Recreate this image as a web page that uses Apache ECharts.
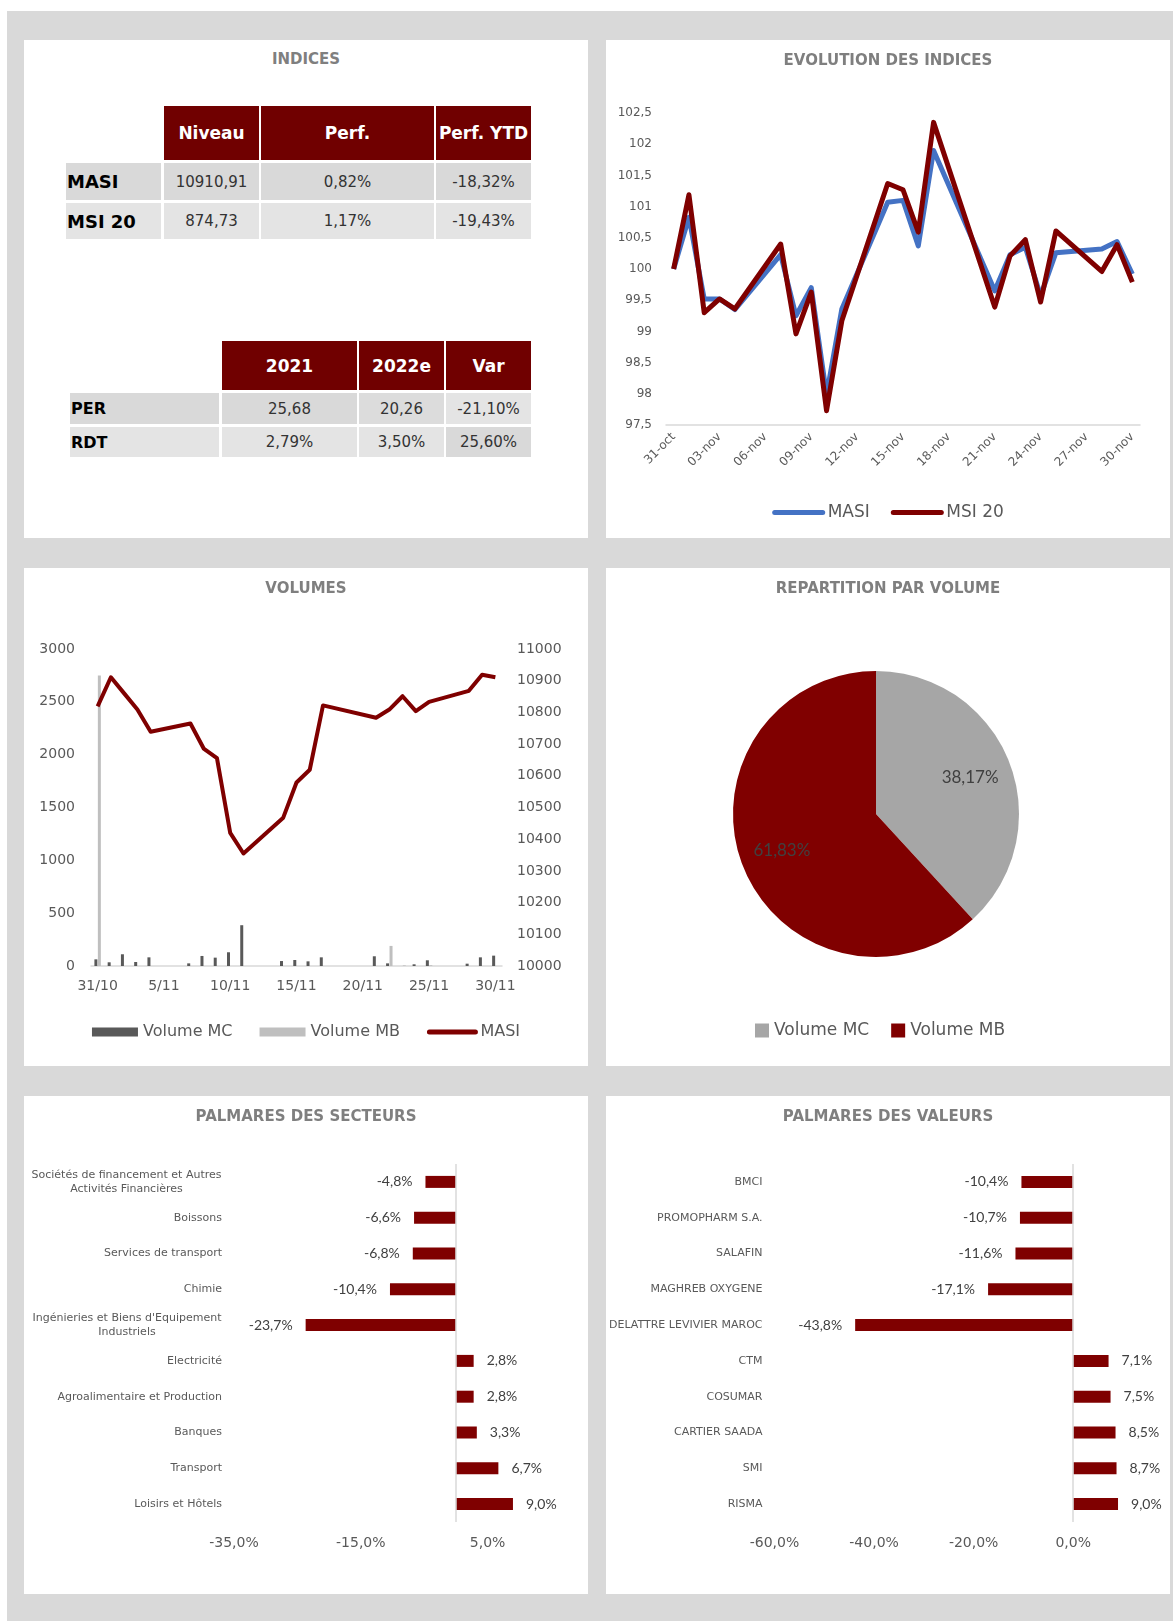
<!DOCTYPE html>
<html>
<head>
<meta charset="utf-8">
<script src="https://cdn.jsdelivr.net/npm/echarts@6/dist/echarts.min.js"></script>
<style>
  body { margin: 0; background: #fff; font-family: 'DejaVu Sans', sans-serif; }
  #bg { position: absolute; left: 7px; top: 11px; width: 1166px; height: 1610px; background: #d9d9d9; }
  .panel { position: absolute; width: 564px; height: 498px; background: #fff; }
  .ptitle { position: absolute; left: 0; top: 10px; width: 100%; text-align: center; font-weight: bold; font-size: 15px; line-height: 18px; color: #7f7f7f; }
  .cell { position: absolute; display: flex; align-items: center; justify-content: center; box-sizing: border-box; white-space: nowrap; }
  .head { background: #700000; color: #fff; font-weight: bold; font-size: 17px; }
  .rowlab { justify-content: flex-start; padding-left: 1px; font-weight: bold; color: #000; }
  .val { color: #333; font-size: 15px; }
</style>
</head>
<body>
<div id="bg"></div>
<div class="panel" id="indices" style="left:24px;top:40px"><div class="ptitle">INDICES</div></div>
<div class="panel" id="evolution" style="left:606px;top:40px"></div>
<div class="panel" id="volumes" style="left:24px;top:568px"></div>
<div class="panel" id="repartition" style="left:606px;top:568px"></div>
<div class="panel" id="secteurs" style="left:24px;top:1096px"></div>
<div class="panel" id="valeurs" style="left:606px;top:1096px"></div>

<script>
// ---- data ----
const indexRows = ['MASI', 'MSI 20'];
const indexCols = ['Niveau', 'Perf.', 'Perf. YTD'];
const indexValues = [
  ['10910,91', '0,82%', '-18,32%'],
  ['874,73', '1,17%', '-19,43%']
];

const ratioRows = ['PER', 'RDT'];
const ratioCols = ['2021', '2022e', 'Var'];
const ratioValues = [
  ['25,68', '20,26', '-21,10%'],
  ['2,79%', '3,50%', '25,60%']
];

const evoDates = ['31-oct', '01-nov', '02-nov', '03-nov', '04-nov', '05-nov', '06-nov', '07-nov', '08-nov', '09-nov',
  '10-nov', '11-nov', '12-nov', '13-nov', '14-nov', '15-nov', '16-nov', '17-nov', '18-nov', '19-nov', '20-nov',
  '21-nov', '22-nov', '23-nov', '24-nov', '25-nov', '26-nov', '27-nov', '28-nov', '29-nov', '30-nov'];
const masiIndex = [100, 100.83, 99.52, 99.52, 99.35, null, null, 100.23, 99.25, 99.70, 97.98, 99.36, null, null,
  101.07, 101.10, 100.37, 101.90, null, null, null, 99.65, 100.23, 100.35, 99.57, 100.26, null, null, 100.32, 100.44, 99.92];
const msi20Index = [100, 101.19, 99.30, 99.52, 99.36, null, null, 100.40, 98.96, 99.63, 97.73, 99.17, null, null,
  101.37, 101.27, 100.59, 102.35, null, null, null, 99.39, 100.21, 100.47, 99.47, 100.61, null, null, 99.96, 100.39, 99.79];

const volDates = ['31/10', '1/11', '2/11', '3/11', '4/11', '5/11', '6/11', '7/11', '8/11', '9/11', '10/11', '11/11',
  '12/11', '13/11', '14/11', '15/11', '16/11', '17/11', '18/11', '19/11', '20/11', '21/11', '22/11', '23/11', '24/11',
  '25/11', '26/11', '27/11', '28/11', '29/11', '30/11'];
const volumeMC = [63, 35, 111, 38, 82, null, null, 25, 95, 79, 130, 386, null, null, 47, 57, 44, 82, null, null, null,
  92, 25, 0, 16, 54, null, null, 22, 82, 98];
const volumeMB = [2750, 0, 0, 0, 0, null, null, 0, 0, 0, 0, 0, null, null, 0, 0, 0, 0, null, null, null,
  0, 190, 6, 0, 8, null, null, 0, 0, 0];
const masiLevel = [10819, 10911, 10860, 10809, 10739, null, null, 10765, 10686, 10656, 10420, 10355, null, null,
  10468, 10579, 10619, 10822, null, null, null, 10783, 10809, 10851, 10804, 10833, null, null, 10868, 10919, 10911];

const shareNames = ['Volume MC', 'Volume MB'];
const shareValues = [38.17, 61.83];

const sectorNames = ['Sociétés de financement et Autres\nActivités Financières', 'Boissons', 'Services de transport',
  'Chimie', "Ingénieries et Biens d'Equipement\nIndustriels", 'Electricité', 'Agroalimentaire et Production',
  'Banques', 'Transport', 'Loisirs et Hôtels'];
const sectorPerf = [-4.8, -6.6, -6.8, -10.4, -23.7, 2.8, 2.8, 3.3, 6.7, 9.0];

const stockNames = ['BMCI', 'PROMOPHARM S.A.', 'SALAFIN', 'MAGHREB OXYGENE', 'DELATTRE LEVIVIER MAROC', 'CTM',
  'COSUMAR', 'CARTIER SAADA', 'SMI', 'RISMA'];
const stockPerf = [-10.4, -10.7, -11.6, -17.1, -43.8, 7.1, 7.5, 8.5, 8.7, 9.0];

// ---- styles ----
const F1 = "'DejaVu Sans', sans-serif";
const F2 = "Lato, sans-serif";
const RED = '#7f0000';
const TXT = '#595959';
const comma = v => String(v).replace('.', ',');
const pct1 = v => v.toFixed(1).replace('.', ',') + '%';

// ---- INDICES tables (html) ----
let indicesPanel = document.getElementById('indices');

let drawTable = (rows, cols, values, colEdges, rowEdges, labelSize, shades) => {
  cols.forEach((c, j) => {
    let d = document.createElement('div');
    d.className = 'cell head';
    d.style.cssText = `left:${colEdges[j + 1][0]}px;width:${colEdges[j + 1][1] - colEdges[j + 1][0]}px;top:${rowEdges[0][0]}px;height:${rowEdges[0][1] - rowEdges[0][0]}px`;
    d.textContent = c;
    indicesPanel.appendChild(d);
  });
  rows.forEach((r, i) => {
    let top = rowEdges[i + 1][0], h = rowEdges[i + 1][1] - rowEdges[i + 1][0];
    let lab = document.createElement('div');
    lab.className = 'cell rowlab';
    lab.style.cssText = `left:${colEdges[0][0]}px;width:${colEdges[0][1] - colEdges[0][0]}px;top:${top}px;height:${h}px;font-size:${labelSize}px;background:${shades[i][0]}`;
    lab.textContent = r;
    indicesPanel.appendChild(lab);
    values[i].forEach((v, j) => {
      let d = document.createElement('div');
      d.className = 'cell val';
      d.style.cssText = `left:${colEdges[j + 1][0]}px;width:${colEdges[j + 1][1] - colEdges[j + 1][0]}px;top:${top}px;height:${h}px;background:${shades[i][j + 1]}`;
      d.textContent = v;
      indicesPanel.appendChild(d);
    });
  });
};

drawTable(indexRows, indexCols, indexValues,
  [[42, 137], [140, 235], [237, 410], [412, 507]],
  [[66, 120], [123, 160], [163, 199]], 18,
  [['#d9d9d9', '#d9d9d9', '#d9d9d9', '#d9d9d9'], ['#e4e4e4', '#e4e4e4', '#e4e4e4', '#e4e4e4']]);

drawTable(ratioRows, ratioCols, ratioValues,
  [[46, 195], [198, 333], [335, 420], [422, 507]],
  [[301, 350], [353, 384], [387, 417]], 16,
  [['#d9d9d9', '#d9d9d9', '#dcdcdc', '#e4e4e4'], ['#e4e4e4', '#e4e4e4', '#e4e4e4', '#d9d9d9']]);

let titleStyle = { fontFamily: F1, fontSize: 15, fontWeight: 'bold', color: '#7f7f7f' };
// legend entry for a line series: plain thick line, no marker
let lineLegend = (name, width) => ({ name: name, itemStyle: { opacity: 0 }, lineStyle: { width: width, cap: 'round' } });

// ---- EVOLUTION DES INDICES ----
let evoChart = echarts.init(document.getElementById('evolution'));
evoChart.setOption({
  animation: false,
  title: { text: 'EVOLUTION DES INDICES', left: 'center', top: 9, textStyle: titleStyle },
  legend: {
    data: [lineLegend('MASI', 5), lineLegend('MSI 20', 5)], top: 459, left: 'center', itemWidth: 48, itemHeight: 14, itemGap: 21,
    textStyle: { fontFamily: F1, fontSize: 17, color: TXT }
  },
  grid: { left: 60, right: 30, top: 73, bottom: 113 },
  xAxis: {
    type: 'category', data: evoDates, boundaryGap: true,
    axisLine: { lineStyle: { color: '#d9d9d9', width: 1.5 } },
    axisTick: { interval: 2, length: 5, lineStyle: { color: '#d9d9d9' } },
    axisLabel: { interval: 2, rotate: 45, margin: 10, fontFamily: F1, fontSize: 12, color: TXT }
  },
  yAxis: {
    type: 'value', min: 97.5, max: 102.5, interval: 0.5,
    splitLine: { show: false }, axisLine: { show: false },
    axisLabel: { formatter: comma, margin: 14, fontFamily: F1, fontSize: 12, color: TXT }
  },
  series: [
    { name: 'MASI', type: 'line', data: masiIndex, connectNulls: true, symbol: 'none',
      lineStyle: { color: '#4472c4', width: 5, join: 'round' }, itemStyle: { color: '#4472c4' } },
    { name: 'MSI 20', type: 'line', data: msi20Index, connectNulls: true, symbol: 'none',
      lineStyle: { color: RED, width: 5, join: 'round' }, itemStyle: { color: RED } }
  ]
});

// ---- VOLUMES ----
let volChart = echarts.init(document.getElementById('volumes'));
volChart.setOption({
  animation: false,
  title: { text: 'VOLUMES', left: 'center', top: 9, textStyle: titleStyle },
  legend: {
    data: [{ name: 'Volume MC', icon: 'rect' }, { name: 'Volume MB', icon: 'rect' }, lineLegend('MASI', 5)],
    top: 451, left: 'center', itemWidth: 46, itemHeight: 9, itemGap: 27,
    textStyle: { fontFamily: F1, fontSize: 16, color: TXT }
  },
  grid: { left: 67, right: 86, top: 81, bottom: 100 },
  xAxis: {
    type: 'category', data: volDates, boundaryGap: true,
    axisLine: { lineStyle: { color: '#d9d9d9', width: 1.5 } },
    axisTick: { interval: 4, length: 4, lineStyle: { color: '#d9d9d9' } },
    axisLabel: { interval: 4, margin: 13, fontFamily: F1, fontSize: 14, color: TXT }
  },
  yAxis: [
    { type: 'value', min: 0, max: 3000, interval: 500, splitLine: { show: false },
      axisLabel: { formatter: v => String(v), margin: 16, fontFamily: F1, fontSize: 14, color: TXT } },
    { type: 'value', min: 10000, max: 11000, interval: 100, position: 'right', splitLine: { show: false },
      axisLabel: { formatter: v => String(v), margin: 15, fontFamily: F1, fontSize: 14, color: TXT } }
  ],
  series: [
    { name: 'Volume MC', type: 'bar', data: volumeMC, barWidth: 3, barGap: '15%', itemStyle: { color: '#595959' } },
    { name: 'Volume MB', type: 'bar', data: volumeMB, barWidth: 3, barGap: '15%', itemStyle: { color: '#bfbfbf' } },
    { name: 'MASI', type: 'line', yAxisIndex: 1, data: masiLevel, connectNulls: true, symbol: 'none',
      lineStyle: { color: RED, width: 4, join: 'round' }, itemStyle: { color: RED } }
  ]
});

// ---- REPARTITION PAR VOLUME ----
let pieColors = ['#a6a6a6', '#800000'];
let pieData = shareNames.map((n, i) => ({ name: n, value: shareValues[i], itemStyle: { color: pieColors[i] } }));
let pieChart = echarts.init(document.getElementById('repartition'));
pieChart.setOption({
  animation: false,
  title: { text: 'REPARTITION PAR VOLUME', left: 'center', top: 9, textStyle: titleStyle },
  legend: {
    data: shareNames, icon: 'rect', left: 144, top: 449, itemWidth: 14, itemHeight: 14, itemGap: 22,
    textStyle: { fontFamily: F1, fontSize: 17, color: TXT }
  },
  series: [
    { type: 'pie', center: [270, 246], radius: 143, startAngle: 90, data: pieData,
      itemStyle: { borderWidth: 0 }, label: { show: false }, labelLine: { show: false }, silent: true },
    // label ring: places the percentages further out than the default inner position
    { type: 'pie', center: [270, 246], radius: [0, 196], startAngle: 90, silent: true,
      data: shareNames.map((n, i) => ({ name: n, value: shareValues[i] })),
      itemStyle: { color: 'transparent', borderWidth: 0 }, labelLine: { show: false },
      label: { position: 'inside', formatter: p => comma(p.value.toFixed(2)) + '%', fontFamily: F2, fontSize: 17, color: '#404040' } }
  ]
});

// ---- PALMARES ----
// wrapped category names: lines centred on each other, block right-aligned
let measureCtx = document.createElement('canvas').getContext('2d');
measureCtx.font = "11px 'DejaVu Sans'";
let wrappedRich = names => {
  let rich = {};
  names.forEach((n, i) => {
    if (n.indexOf('\n') < 0) return;
    let w = Math.max(...n.split('\n').map(l => measureCtx.measureText(l).width));
    rich['w' + i] = { width: Math.ceil(w) + 1, align: 'center', fontFamily: F1, fontSize: 11, lineHeight: 14, color: TXT };
  });
  return rich;
};

let palmaresOption = (title, names, values, gridLeft, gridRight, min, max) => ({
  animation: false,
  title: { text: title, left: 'center', top: 9, textStyle: titleStyle },
  grid: { left: gridLeft, right: gridRight, top: 68, bottom: 72 },
  xAxis: {
    type: 'value', min: min, max: max, interval: 20,
    axisLine: { show: false }, axisTick: { show: false }, splitLine: { show: false },
    axisLabel: { formatter: pct1, showMaxLabel: false, margin: 14, fontFamily: F1, fontSize: 14, color: TXT }
  },
  yAxis: {
    type: 'category', data: names, inverse: true,
    axisLine: { show: false }, axisTick: { show: false },
    axisLabel: {
      margin: 12, fontFamily: F1, fontSize: 11, lineHeight: 14, color: TXT,
      formatter: (v, i) => v.indexOf('\n') < 0 ? v : v.split('\n').map(l => '{w' + i + '|' + l + '}').join('\n'),
      rich: wrappedRich(names)
    }
  },
  series: [{
    type: 'bar', barWidth: 12, itemStyle: { color: RED },
    data: values.map(v => ({ value: v, label: { position: v < 0 ? 'left' : 'right' } })),
    label: { show: true, formatter: p => pct1(p.value), distance: 13, fontFamily: F2, fontSize: 14, color: '#404040' },
    markLine: {
      silent: true, symbol: 'none', label: { show: false },
      lineStyle: { color: '#d9d9d9', width: 1.5, type: 'solid' },
      data: [{ xAxis: 0 }]
    }
  }]
});

let secChart = echarts.init(document.getElementById('secteurs'));
secChart.setOption(palmaresOption('PALMARES DES SECTEURS', sectorNames, sectorPerf, 210, 37, -35, 15));

let valChart = echarts.init(document.getElementById('valeurs'));
valChart.setOption(palmaresOption('PALMARES DES VALEURS', stockNames, stockPerf, 161, 47, -60, 10));
</script>
</body>
</html>
